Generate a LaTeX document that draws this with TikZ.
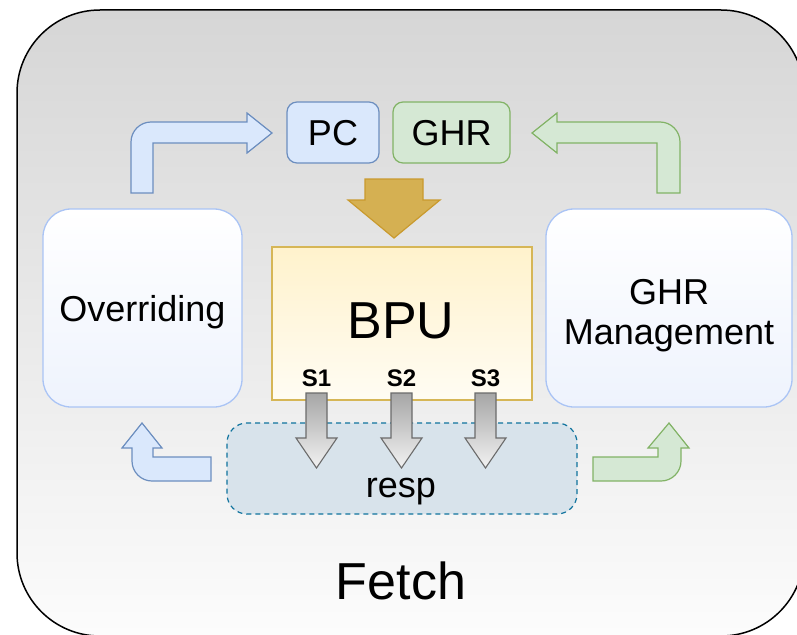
\documentclass[tikz,border=0pt]{standalone}
\usepackage{fontspec}
\setmainfont{Liberation Sans}
\definecolor{pcfill}{HTML}{DAE8FC}
\definecolor{pcedge}{HTML}{6C8EBF}
\definecolor{ghrfill}{HTML}{D5E8D4}
\definecolor{ghredge}{HTML}{82B366}
\definecolor{sideedge}{HTML}{AAC4F5}
\definecolor{sidebot}{HTML}{EEF3FD}
\definecolor{bputop}{HTML}{FFF2CC}
\definecolor{bpubot}{HTML}{FFFCF3}
\definecolor{bpuedge}{HTML}{D6B656}
\definecolor{respfill}{HTML}{D8E3EB}
\definecolor{respedge}{HTML}{10739E}
\definecolor{goldfill}{HTML}{D5B052}
\definecolor{goldedge}{HTML}{C99A2E}
\definecolor{grayedge}{HTML}{6B6B6B}
\definecolor{outertop}{HTML}{D6D6D6}
\definecolor{outerbot}{HTML}{FCFCFC}
\begin{document}
\begin{tikzpicture}[x=1pt,y=-1pt,
  txt/.style={inner sep=0pt, font=\fontsize{36}{40}\selectfont},
  bigtxt/.style={inner sep=0pt, font=\fontsize{52}{58}\selectfont},
  stagetxt/.style={inner sep=0pt, font=\bfseries\fontsize{24}{26}\selectfont},
  regbox/.style={draw, line width=1.2pt, rounded corners=10pt, inner sep=0pt, minimum height=61pt},
  sidebox/.style={draw=sideedge, line width=1.3pt, rounded corners=28pt, top color=white, bottom color=sidebot, inner sep=0pt, minimum height=198pt},
  bpubox/.style={draw=bpuedge, line width=1.2pt, top color=bputop, bottom color=bpubot, inner sep=0pt, minimum width=260pt, minimum height=153pt},
  respbox/.style={draw=respedge, fill=respfill, line width=1.2pt, dash pattern=on 5pt off 4pt, rounded corners=20pt, inner sep=0pt, minimum width=350pt, minimum height=91pt},
  bluearrow/.style={draw=pcedge, fill=pcfill, line width=1.2pt, line join=miter},
  greenarrow/.style={draw=ghredge, fill=ghrfill, line width=1.2pt, line join=miter},
  goldarrow/.style={draw=goldedge, fill=goldfill, line width=1.2pt},
  grayarrow/.style={draw=grayedge, top color=black!35, bottom color=black!5, line width=1.1pt}
]
\useasboundingbox (0,0) rectangle (797,634);

% Fetch stage frame
\begin{scope}
  \clip (0,0) rectangle (797,634);
  \draw[line width=1.5pt, rounded corners=83pt, top color=outertop, bottom color=outerbot]
    (17,10) rectangle (804,636);
\end{scope}
\node[bigtxt, anchor=base] (fetch) at (401,599) {Fetch};

% side units
\node[sidebox, minimum width=199pt] (ovr) at (142.5,308) {};
\node[txt, anchor=base] (ovrtxt) at (142.5,321) {Overriding};
\node[sidebox, minimum width=246pt] (ghrm) at (669,308) {};
\node[txt, align=center] (ghrmtxt) at (669,316) {GHR\\Management};

% registers
\node[regbox, draw=pcedge, fill=pcfill, minimum width=92pt] (pc) at (333,132.5) {};
\node[txt, anchor=base] (pctxt) at (333,145) {PC};
\node[regbox, draw=ghredge, fill=ghrfill, minimum width=117pt] (ghr) at (451.5,132.5) {};
\node[txt, anchor=base] (ghrtxt) at (451.5,145) {GHR};

% response bundle and predictor
\node[respbox] (resp) at (402,468.5) {};
\node[txt, anchor=base] (resptxt) at (401,497) {resp};
\node[bpubox] (bpu) at (402,323.5) {};
\node[bigtxt, anchor=base] (bputxt) at (401,338) {BPU};

% PC/GHR feed the predictor
\draw[goldarrow] (365,179) -- (423,179) -- (423,200) -- (440,200) -- (394,238)
  -- (348,200) -- (365,200) -- cycle;

% pipeline stages S1..S3 into resp
\foreach \cx/\nm in {316.5/S1, 401.5/S2, 485.5/S3}{
  \draw[grayarrow] (\cx-10.5,393) -- (\cx+10.5,393) -- (\cx+10.5,438) -- (\cx+20.5,438)
    -- (\cx,468) -- (\cx-20.5,438) -- (\cx-10.5,438) -- cycle;
  \node[stagetxt, anchor=base] (\nm) at (\cx,386) {\nm};
}

% Overriding -> PC
\draw[bluearrow] (131,193) -- (131,142) .. controls (131,131) and (140,122) .. (151,122)
  -- (247,122) -- (247,113) -- (272,133) -- (247,153) -- (247,143) -- (153,143) -- (153,193) -- cycle;
% GHR Management -> GHR
\draw[greenarrow] (532,133) -- (557,113) -- (557,122) -- (660,122)
  .. controls (671,122) and (680,131) .. (680,142) -- (680,193) -- (657,193) -- (657,143)
  -- (557,143) -- (557,153) -- cycle;
% resp -> Overriding
\draw[bluearrow] (142,423) -- (162,448) -- (153,448) -- (153,457) -- (211,457) -- (211,481)
  -- (152,481) .. controls (141,481) and (132,472) .. (132,461) -- (132,448) -- (122,448) -- cycle;
% resp -> GHR Management
\draw[greenarrow] (593,457) -- (658,457) -- (658,448) -- (648,448) -- (669,423) -- (689,448)
  -- (681,448) -- (681,461) .. controls (681,472) and (672,481) .. (661,481) -- (593,481) -- cycle;
\end{tikzpicture}
\end{document}
